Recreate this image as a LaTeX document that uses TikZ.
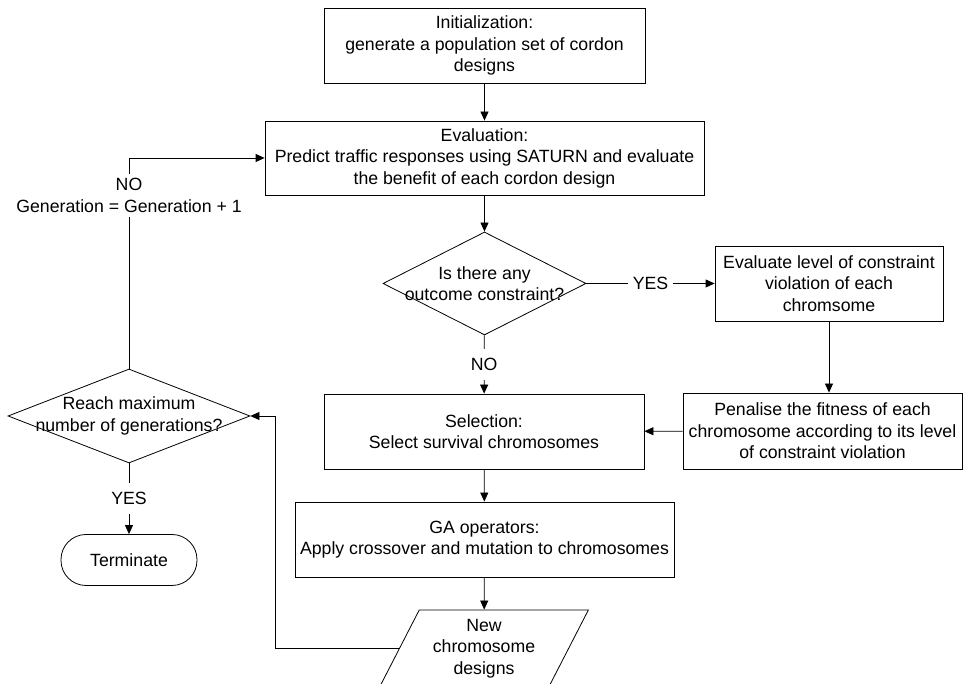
\documentclass[tikz,border=0pt]{standalone}
\usepackage{fontspec}
\setmainfont{Liberation Sans}
\usetikzlibrary{shapes.geometric,arrows.meta}

\begin{document}
\begin{tikzpicture}[x=1pt,y=1pt,line width=0.8pt,
  font=\fontsize{17.7}{21.5}\selectfont,
  every node/.style={align=center},
  box/.style={draw, rectangle, minimum height=75pt},
  decision/.style={draw, diamond, inner sep=0pt},
  io/.style={draw, trapezium, trapezium left angle=62, trapezium right angle=118,
    trapezium stretches=true, minimum height=77pt, minimum width=209pt, inner sep=0pt},
  term/.style={draw, rectangle, rounded corners=25pt, minimum width=136pt, minimum height=51pt},
  flow/.style={draw, -{Triangle[length=9pt,width=8pt]}},
  tag/.style={fill=white, inner xsep=5pt, inner ysep=9pt}]
\useasboundingbox (0,0) rectangle (967,684);
\node[box, minimum width=321pt] (1) at (484.5,638.5) {Initialization:\\generate a population set of cordon\\designs};
\node[box, minimum width=439pt, minimum height=74pt] (2) at (484.5,526) {Evaluation:\\Predict traffic responses using SATURN and evaluate\\the benefit of each cordon design};
\node[decision, minimum width=203pt, minimum height=103pt] (3) at (484.5,400.5) {};
\node (3t) at (484.5,400.5) {Is there any\\outcome constraint?};
\node[box, minimum width=228pt] (4) at (829,400.5) {Evaluate level of constraint\\violation of each\\chromsome};
\node[box, minimum width=279pt, minimum height=76pt] (5) at (822.5,253) {Penalise the fitness of each\\chromosome according to its level\\of constraint violation};
\node[box, minimum width=320pt] (6) at (484,252.5) {Selection:\\Select survival chromosomes};
\node[box, minimum width=379pt] (11) at (484.5,144.5) {GA operators:\\Apply crossover and mutation to chromosomes};
\node[io] (12) at (484,35.5) {New\\chromosome\\designs};
\node[decision, minimum width=242pt, minimum height=94pt] (7) at (129,268) {};
\node (7t) at (129,268) {Reach maximum\\number of generations?};
\node[term] (8) at (129,124) {Terminate};
\node[fill=white, inner sep=4pt] (10) at (129,488.5) {NO\\Generation = Generation + 1};
\coordinate (9) at (275,268);
\path[flow] (1) -- (2);
\path[flow] (2) -- (3);
\path[flow] (3) -- (4) node[midway, tag] {YES};
\path[flow] (3) -- (6) node[midway, tag] {NO};
\path[flow] (4) -- (4 |- 5.north);
\path[flow] (5) -- (6);
\path[flow] (6) -- (11);
\path[flow] (11) -- (12);
\path[flow] (12.west) -| (9) -- (7);
\path[flow] (7) -- (8) node[midway, tag] {YES};
\path[draw] (7) -- (10);
\path[flow] (10) |- (2);
\end{tikzpicture}
\end{document}
